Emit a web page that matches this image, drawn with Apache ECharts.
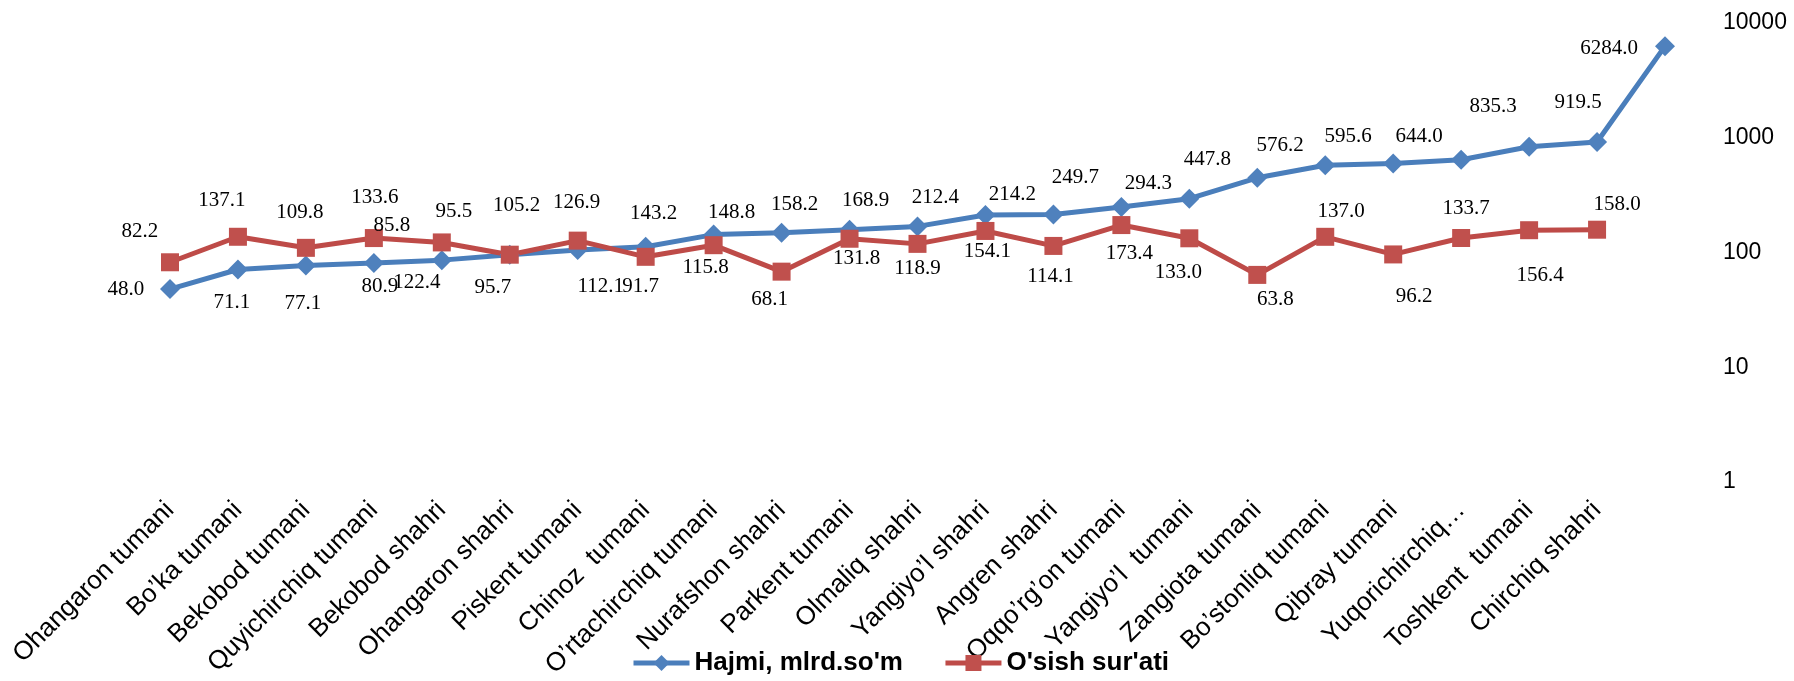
<!DOCTYPE html>
<html>
<head>
<meta charset="utf-8">
<title>Hajmi va o'sish sur'ati</title>
<script src="https://cdn.jsdelivr.net/npm/echarts@6/dist/echarts.min.js"></script>
<style>
  html, body { margin: 0; padding: 0; background: #fff; }
  #chart { width: 1794px; height: 681px; }
</style>
</head>
<body>
<div id="chart"></div>
<script>
// districts, sorted by volume (last category is the unnamed total)
const categories = [
  'Ohangaron tumani', 'Bo’ka tumani', 'Bekobod tumani', 'Quyichirchiq tumani',
  'Bekobod shahri', 'Ohangaron shahri', 'Piskent tumani', 'Chinoz  tumani',
  'O’rtachirchiq tumani', 'Nurafshon shahri', 'Parkent tumani', 'Olmaliq shahri',
  'Yangiyo’l shahri', 'Angren shahri', 'Oqqo’rg’on tumani', 'Yangiyo’l  tumani',
  'Zangiota tumani', 'Bo’stonliq tumani', 'Qibray tumani', 'Yuqorichirchiq…',
  'Toshkent  tumani', 'Chirchiq shahri', ''
]

// Hajmi, mlrd.so'm
const hajmi = [
  48.0, 71.1, 77.1, 80.9, 85.8, 95.5, 105.2, 112.1, 143.2, 148.8, 158.2, 168.9,
  212.4, 214.2, 249.7, 294.3, 447.8, 576.2, 595.6, 644.0, 835.3, 919.5, 6284.0
]

// O'sish sur'ati
const osish = [
  82.2, 137.1, 109.8, 133.6, 122.4, 95.7, 126.9, 91.7, 115.8, 68.1, 131.8,
  118.9, 154.1, 114.1, 173.4, 133.0, 63.8, 137.0, 96.2, 133.7, 156.4, 158.0, null
]

const yTicks = [1, 10, 100, 1000, 10000]

// where each value label sits relative to its marker (layout only)
const hajmiLabelShift = [
  [-44, 0], [-6, 33], [-3, 38], [6, 23], [-50, -35], [-56, -43], [-61, -44],
  [-45, 40], [-60, -21], [-50, -20], [-55, -25], [-52, -26], [-50, -17],
  [-41, -20], [-46, -29], [-41, -15], [-50, -18], [-45, -20], [-45, -27],
  [-42, -23], [-36, -40], [-19, -39], [-56, 2]
]
const osishLabelShift = [
  [-30, -31], [-16, -36], [-6, -35], [1, -41], [-25, 40], [-17, 33], [-1, -38],
  [-5, 30], [-8, 22], [-12, 28], [7, 20], [0, 25], [2, 21], [-3, 31], [8, 28],
  [-11, 34], [18, 25], [16, -25], [21, 42], [5, -30], [11, 45], [20, -25], [0, 0]
]

const withLabels = (values, shifts) => values.map((v, i) => ({
  value: v,
  label: { offset: shifts[i] }
}))

const valueLabel = {
  show: true,
  position: 'inside',
  fontFamily: 'Liberation Serif',
  fontSize: 21,
  color: '#000',
  formatter: p => Number(p.value).toFixed(1)
}

const chart = echarts.init(document.getElementById('chart'))

chart.setOption({
  animation: false,
  grid: { left: 136, right: 95, top: 23, bottom: 199 },
  legend: {
    left: 626,
    top: 645,
    itemWidth: 56,
    itemHeight: 20,
    itemGap: 40,
    lineStyle: { width: 5 },
    textStyle: { fontFamily: 'Liberation Sans', fontSize: 26, fontWeight: 'bold', color: '#000' },
    data: ["Hajmi, mlrd.so'm", "O'sish sur'ati"]
  },
  xAxis: {
    type: 'category',
    data: categories,
    boundaryGap: true,
    axisLine: { show: false, onZero: false },
    axisTick: { show: false },
    axisLabel: {
      interval: 0,
      rotate: 45,
      margin: 24,
      fontFamily: 'Liberation Sans',
      fontSize: 26,
      color: '#000'
    }
  },
  yAxis: {
    type: 'log',
    logBase: 10,
    min: yTicks[0],
    max: yTicks[yTicks.length - 1],
    position: 'right',
    axisLine: { show: false },
    axisTick: { show: false },
    splitLine: { show: false },
    axisLabel: {
      margin: 24,
      fontFamily: 'Liberation Sans',
      fontSize: 23,
      color: '#000',
      formatter: v => String(v)
    }
  },
  series: [
    {
      name: "Hajmi, mlrd.so'm",
      type: 'line',
      data: withLabels(hajmi, hajmiLabelShift),
      symbol: 'diamond',
      symbolSize: 20,
      lineStyle: { color: '#4a7ebb', width: 5 },
      itemStyle: { color: '#4f81bd' },
      label: valueLabel
    },
    {
      name: "O'sish sur'ati",
      type: 'line',
      data: withLabels(osish, osishLabelShift),
      symbol: 'rect',
      symbolSize: 18,
      lineStyle: { color: '#be4b48', width: 5 },
      itemStyle: { color: '#c0504d' },
      label: valueLabel
    }
  ]
})

window.addEventListener('resize', () => chart.resize())
</script>
</body>
</html>
